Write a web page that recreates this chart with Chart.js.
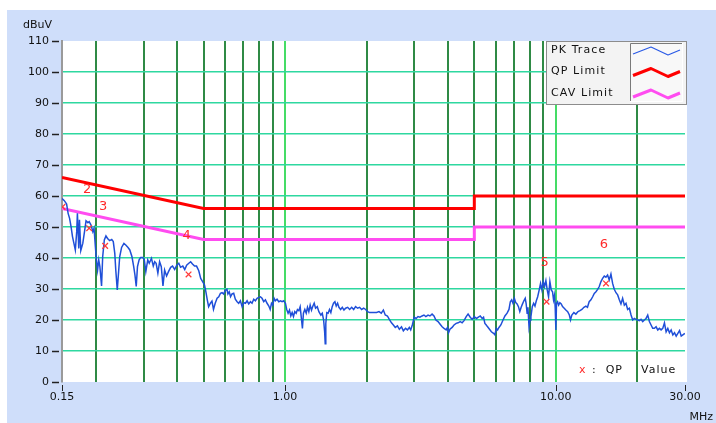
<!DOCTYPE html>
<html>
<head>
<meta charset="utf-8">
<script src="https://cdn.jsdelivr.net/npm/chart.js@4.4.1/dist/chart.umd.min.js"></script>
<style>
  html, body { margin: 0; padding: 0; background: #ffffff; }
  #c { display: block; }
</style>
</head>
<body>
<canvas id="c" width="716" height="423"></canvas>
<script>
// Peak detector sweep: [frequency MHz, level dBuV]
const pkTrace = [
  [0.150,59.2],[0.153,58.5],[0.156,57.4],[0.158,54.4],[0.160,52.8],[0.162,50.1],[0.164,46.9],[0.166,44.7],
  [0.168,42.6],[0.170,48.5],[0.171,54.4],[0.173,43.1],[0.174,52.3],[0.176,42.4],[0.179,44.7],[0.182,49.0],
  [0.184,52.0],[0.187,51.4],[0.189,51.7],[0.192,50.6],[0.195,48.5],[0.197,49.6],[0.199,44.2],[0.201,39.4],
  [0.203,36.1],[0.205,39.4],[0.207,37.2],[0.210,31.0],[0.212,40.4],[0.215,45.8],[0.218,47.1],[0.221,46.3],
  [0.225,45.6],[0.229,46.0],[0.232,45.3],[0.235,41.5],[0.237,36.1],[0.240,29.7],[0.243,36.1],[0.245,40.4],
  [0.249,43.4],[0.254,44.7],[0.258,44.2],[0.263,43.4],[0.267,42.6],[0.272,40.4],[0.276,37.2],[0.279,34.5],
  [0.282,30.8],[0.285,37.2],[0.289,39.4],[0.293,40.2],[0.298,40.2],[0.302,39.4],[0.306,35.6],[0.311,39.4],
  [0.315,38.3],[0.321,39.9],[0.326,37.4],[0.330,38.8],[0.334,38.3],[0.339,35.1],[0.344,38.8],[0.349,37.2],
  [0.354,31.0],[0.359,36.1],[0.365,34.2],[0.371,35.6],[0.378,37.0],[0.384,37.4],[0.391,36.3],[0.398,37.7],
  [0.405,38.3],[0.411,37.0],[0.419,37.4],[0.426,36.3],[0.433,37.7],[0.441,38.3],[0.448,38.8],[0.455,38.1],
  [0.463,37.4],[0.471,37.4],[0.480,35.9],[0.488,33.4],[0.496,32.4],[0.504,31.3],[0.510,29.1],[0.516,26.5],
  [0.522,24.3],[0.530,25.4],[0.537,26.1],[0.544,23.4],[0.552,25.4],[0.561,27.0],[0.569,27.5],[0.577,28.6],
  [0.585,28.8],[0.593,28.4],[0.601,29.5],[0.610,29.9],[0.615,28.4],[0.622,29.1],[0.629,27.5],[0.637,28.4],
  [0.646,28.6],[0.655,26.7],[0.665,25.9],[0.674,25.4],[0.684,26.2],[0.694,24.3],[0.704,25.6],[0.714,25.4],
  [0.724,26.2],[0.734,25.2],[0.745,25.9],[0.755,25.4],[0.766,26.7],[0.777,26.2],[0.788,27.0],[0.800,27.3],
  [0.811,27.5],[0.822,27.0],[0.834,25.9],[0.846,26.5],[0.858,25.4],[0.871,24.5],[0.881,23.4],[0.891,25.4],
  [0.901,24.8],[0.911,27.0],[0.921,26.2],[0.934,26.7],[0.948,25.9],[0.962,26.2],[0.975,25.9],[0.989,26.2],
  [1.003,25.4],[1.014,23.4],[1.026,22.2],[1.038,23.2],[1.050,21.3],[1.062,22.4],[1.074,21.1],[1.086,22.7],
  [1.099,22.2],[1.111,23.4],[1.124,23.0],[1.137,24.3],[1.150,20.2],[1.159,17.3],[1.169,22.2],[1.183,23.4],
  [1.197,22.2],[1.210,24.1],[1.224,22.7],[1.238,24.8],[1.252,23.2],[1.267,24.5],[1.281,25.4],[1.296,23.8],
  [1.315,24.3],[1.333,22.7],[1.356,21.6],[1.372,22.2],[1.388,20.0],[1.400,16.2],[1.407,12.3],[1.414,18.9],
  [1.426,22.4],[1.442,22.2],[1.459,23.4],[1.476,22.4],[1.493,24.3],[1.510,25.4],[1.528,25.9],[1.545,24.5],
  [1.563,25.4],[1.581,24.1],[1.604,23.4],[1.627,24.1],[1.650,23.2],[1.674,23.8],[1.703,24.1],[1.732,23.4],
  [1.762,24.1],[1.792,23.4],[1.822,24.3],[1.853,23.8],[1.885,24.1],[1.918,23.4],[1.951,23.8],[1.984,23.4],
  [2.018,22.7],[2.053,22.4],[2.099,22.4],[2.130,22.4],[2.178,22.4],[2.223,22.7],[2.266,22.2],[2.307,23.2],
  [2.344,21.6],[2.388,21.3],[2.427,20.2],[2.472,19.1],[2.512,18.4],[2.553,17.6],[2.600,18.1],[2.643,17.0],
  [2.692,17.8],[2.735,16.5],[2.786,17.3],[2.831,16.8],[2.877,17.6],[2.911,16.8],[2.951,18.4],[2.999,20.9],
  [3.048,20.5],[3.097,21.1],[3.148,20.9],[3.206,21.3],[3.258,21.6],[3.311,21.1],[3.373,21.6],[3.428,21.3],
  [3.491,21.9],[3.548,21.3],[3.606,20.0],[3.673,19.5],[3.733,18.7],[3.802,17.8],[3.864,17.3],[3.936,16.8],
  [3.981,17.6],[4.018,15.9],[4.064,17.0],[4.140,17.6],[4.207,18.4],[4.285,18.9],[4.355,19.1],[4.436,19.5],
  [4.508,19.1],[4.581,19.8],[4.667,21.1],[4.742,21.9],[4.831,20.9],[4.909,20.2],[5.000,21.1],[5.093,20.5],
  [5.176,20.9],[5.260,21.3],[5.346,20.5],[5.408,20.9],[5.470,18.9],[5.534,18.4],[5.598,17.8],[5.689,17.0],
  [5.781,16.2],[5.888,15.7],[5.957,15.2],[6.026,17.3],[6.095,16.8],[6.166,17.6],[6.266,18.4],[6.383,20.0],
  [6.486,21.3],[6.607,22.2],[6.714,23.4],[6.792,25.9],[6.871,26.5],[6.950,25.4],[7.031,27.0],[7.112,25.6],
  [7.194,25.2],[7.278,24.3],[7.362,22.7],[7.447,24.1],[7.534,25.2],[7.621,26.2],[7.709,27.0],[7.766,25.4],
  [7.834,22.2],[7.889,24.1],[7.962,17.8],[8.035,20.0],[8.091,21.1],[8.185,24.3],[8.279,25.4],[8.375,24.5],
  [8.472,26.2],[8.570,27.5],[8.683,29.7],[8.782,31.8],[8.883,29.7],[8.984,32.4],[9.087,30.8],[9.190,32.7],
  [9.295,29.7],[9.400,27.5],[9.507,32.4],[9.616,29.7],[9.725,29.1],[9.808,26.5],[9.892,28.1],[9.949,23.8],
  [10.005,16.8],[10.06,25.4],[10.15,25.9],[10.24,24.8],[10.35,25.6],[10.47,25.2],[10.59,24.3],[10.74,23.8],
  [10.89,23.2],[11.06,22.7],[11.22,21.6],[11.33,20.0],[11.46,21.6],[11.66,22.4],[11.86,21.9],[12.08,22.7],
  [12.28,23.0],[12.48,23.4],[12.70,24.1],[12.91,24.5],[13.09,24.1],[13.28,25.9],[13.48,26.5],[13.68,27.5],
  [13.87,28.6],[14.07,29.1],[14.27,29.9],[14.47,30.8],[14.68,32.4],[14.89,33.4],[15.10,34.2],[15.31,33.8],
  [15.53,34.5],[15.75,32.9],[15.98,34.8],[16.21,31.8],[16.44,29.9],[16.68,28.8],[16.92,28.1],[17.16,26.5],
  [17.40,25.2],[17.65,27.0],[17.91,24.8],[18.16,25.4],[18.42,23.4],[18.69,23.8],[18.96,21.6],[19.23,20.0],
  [19.50,20.5],[19.78,20.2],[20.06,20.0],[20.35,19.8],[20.64,20.2],[20.94,19.5],[21.24,20.0],[21.54,20.5],
  [21.85,21.6],[22.16,19.5],[22.48,18.4],[22.80,17.3],[23.13,17.3],[23.46,17.8],[23.80,16.8],[24.14,17.3],
  [24.48,16.8],[24.83,17.3],[25.19,19.1],[25.55,16.2],[25.92,17.3],[26.29,15.9],[26.67,16.8],[27.05,15.2],
  [27.44,15.9],[27.83,14.8],[28.23,15.7],[28.64,16.6],[29.05,14.8],[29.46,15.2],[29.96,15.7]
];

// Class B limit lines (corner frequencies and levels)
const limitFreq = [0.15, 0.5, 5, 5, 30];
const qpLimit   = [66, 56, 56, 60, 60];
const cavLimit  = [56, 46, 46, 50, 50];

// Quasi-peak readings at the marked frequencies
const qpFreq   = [0.1506, 0.189, 0.2165, 0.440, 9.24, 15.32];
const qpLevel  = [56.5, 49.6, 43.9, 34.7, 25.9, 31.8];
const qpNames  = ['', '2', '3', '4', '5', '6'];

// Axis ticks
const freqGrid    = [0.15, 0.2, 0.3, 0.4, 0.5, 0.6, 0.7, 0.8, 0.9, 1, 2, 3, 4, 5, 6, 7, 8, 9, 10, 20, 30];
const freqLabeled = [0.15, 1, 10, 30];
const levelTicks  = [0, 10, 20, 30, 40, 50, 60, 70, 80, 90, 100, 110];

const FONT = '"DejaVu Sans", Verdana, sans-serif';
const near = (a, b) => Math.abs(a - b) < 1e-6;
const toPoints = (xs, ys) => xs.map((x, i) => ({ x: x, y: ys[i] }));

const backdrop = {
  id: 'backdrop',
  beforeDraw(chart) {
    const { ctx, chartArea: a } = chart;
    ctx.save();
    ctx.fillStyle = '#ffffff';
    ctx.fillRect(0, 0, chart.width, chart.height);
    ctx.fillStyle = '#cfdefa';
    ctx.fillRect(7, 10, chart.width - 7, chart.height - 10);
    ctx.fillStyle = '#ffffff';
    ctx.fillRect(a.left, a.top, a.right - a.left + 2, a.bottom - a.top);
    ctx.restore();
  }
};

const decorations = {
  id: 'decorations',
  afterDraw(chart) {
    const { ctx, chartArea: a, scales: { x, y } } = chart;
    ctx.save();

    // y tick dashes
    ctx.strokeStyle = '#222';
    ctx.lineWidth = 1.5;
    levelTicks.forEach(v => {
      const py = Math.round(y.getPixelForValue(v)) + 0.5;
      ctx.beginPath();
      ctx.moveTo(a.left - 10, py);
      ctx.lineTo(a.left - 3, py);
      ctx.stroke();
    });
    // x tick marks
    ctx.lineWidth = 1;
    freqLabeled.forEach(f => {
      const px = Math.round(x.getPixelForValue(f)) + 0.5;
      ctx.beginPath();
      ctx.moveTo(px, a.bottom + 3);
      ctx.lineTo(px, a.bottom + 9);
      ctx.stroke();
    });

    // unit captions
    ctx.fillStyle = '#111';
    ctx.font = '11px ' + FONT;
    ctx.textBaseline = 'middle';
    ctx.textAlign = 'left';
    ctx.fillText('dBuV', 23, 25);
    ctx.textAlign = 'right';
    ctx.fillText('MHz', chart.width - 3, 417);

    // marker numbers
    ctx.fillStyle = '#ff2a2a';
    ctx.font = '13px ' + FONT;
    ctx.textAlign = 'center';
    qpNames.forEach((n, i) => {
      if (!n) return;
      const px = x.getPixelForValue(qpFreq[i]) - 2;
      const py = y.getPixelForValue(qpLevel[i]) - 39;
      ctx.fillText(n, px, py);
    });

    // "x : QP   Value" note
    ctx.font = '11px ' + FONT;
    ctx.textAlign = 'left';
    ctx.fillStyle = '#ff2a2a';
    ctx.fillText('x', a.right - 106, a.bottom - 12);
    ctx.fillStyle = '#111';
    ctx.letterSpacing = '1px';
    ctx.fillText(':  QP', a.right - 93, a.bottom - 12);
    ctx.fillText('Value', a.right - 44, a.bottom - 12);

    // legend box
    const lx = a.right - 139, ly = a.top, lw = 141, lh = 64;
    ctx.fillStyle = '#f3f3f3';
    ctx.fillRect(lx, ly, lw, lh);
    ctx.strokeStyle = '#8c8c8c';
    ctx.lineWidth = 1;
    ctx.strokeRect(lx + 0.5, ly + 0.5, lw - 1, lh - 1);
    // sample panel with inset edge
    const sx = lx + 84, sy = ly + 2, sw = 53, sh = 59;
    ctx.fillStyle = '#f8f8f8';
    ctx.fillRect(sx, sy, sw, sh);
    ctx.strokeStyle = '#7a7a7a';
    ctx.beginPath();
    ctx.moveTo(sx + 0.5, sy + sh); ctx.lineTo(sx + 0.5, sy + 0.5); ctx.lineTo(sx + sw, sy + 0.5);
    ctx.stroke();
    ctx.strokeStyle = '#ffffff';
    ctx.beginPath();
    ctx.moveTo(sx + sw - 0.5, sy); ctx.lineTo(sx + sw - 0.5, sy + sh - 0.5); ctx.lineTo(sx, sy + sh - 0.5);
    ctx.stroke();

    const entries = [
      { text: 'PK Trace',  color: '#2a5ae6', width: 1.2, dy: 9 },
      { text: 'QP Limit',  color: '#ff0000', width: 3,   dy: 30.5 },
      { text: 'CAV Limit', color: '#ff4cf0', width: 3,   dy: 52 }
    ];
    entries.forEach(e => {
      ctx.fillStyle = '#111';
      ctx.font = '11px ' + FONT;
      ctx.letterSpacing = '1.1px';
      ctx.textAlign = 'left';
      ctx.fillText(e.text, lx + 5, ly + e.dy);
      ctx.letterSpacing = '0px';
      ctx.strokeStyle = e.color;
      ctx.lineWidth = e.width;
      ctx.lineJoin = 'round';
      const cy = ly + e.dy + 1;
      ctx.beginPath();
      ctx.moveTo(sx + 3, cy + 3);
      ctx.lineTo(sx + 21, cy - 4);
      ctx.lineTo(sx + 38, cy + 4);
      ctx.lineTo(sx + 50, cy - 1);
      ctx.stroke();
    });

    ctx.restore();
  }
};

new Chart(document.getElementById('c'), {
  type: 'scatter',
  data: {
    datasets: [
      {
        label: 'QP',
        data: toPoints(qpFreq, qpLevel),
        showLine: false,
        pointStyle: 'crossRot',
        pointRadius: 4,
        borderColor: '#ff3a3a',
        borderWidth: 1.3
      },
      {
        label: 'PK Trace',
        data: pkTrace.map(p => ({ x: p[0], y: p[1] })),
        showLine: true,
        borderColor: '#1f4fd8',
        borderWidth: 1.5,
        pointRadius: 0,
        tension: 0
      },
      {
        label: 'QP Limit',
        data: toPoints(limitFreq, qpLimit),
        showLine: true,
        borderColor: '#ff0000',
        borderWidth: 3,
        pointRadius: 0
      },
      {
        label: 'CAV Limit',
        data: toPoints(limitFreq, cavLimit),
        showLine: true,
        borderColor: '#ff4cf0',
        borderWidth: 3,
        pointRadius: 0
      }
    ]
  },
  options: {
    responsive: false,
    animation: false,
    devicePixelRatio: 1,
    layout: { padding: { top: 41, right: 31, left: 0, bottom: 0 } },
    plugins: { legend: { display: false }, tooltip: { enabled: false } },
    scales: {
      x: {
        type: 'logarithmic',
        min: 0.15,
        max: 30,
        afterBuildTicks: s => { s.ticks = freqGrid.map(v => ({ value: v })); },
        afterFit: s => { s.height = 41; },
        border: { display: false },
        grid: {
          drawTicks: false,
          lineWidth: 2,
          color: c => {
            const v = c.tick ? c.tick.value : NaN;
            if (near(v, 0.15) || near(v, 30)) return 'rgba(0,0,0,0)';
            if (near(v, 1) || near(v, 10)) return '#45dc66';
            return '#2f8a45';
          }
        },
        ticks: {
          autoSkip: false,
          maxRotation: 0,
          padding: 9,
          color: '#111',
          font: { family: FONT, size: 11 },
          callback: v => freqLabeled.some(f => near(f, v)) ? Number(v).toFixed(2) : ''
        }
      },
      y: {
        min: 0,
        max: 110,
        afterBuildTicks: s => { s.ticks = levelTicks.map(v => ({ value: v })); },
        afterFit: s => { s.width = 62; },
        border: { display: true, color: '#9a9a9a', width: 2 },
        grid: {
          drawTicks: false,
          lineWidth: 1.6,
          color: c => {
            const v = c.tick ? c.tick.value : NaN;
            return (v === 0 || v === 110) ? 'rgba(0,0,0,0)' : '#2ed8a0';
          }
        },
        ticks: {
          padding: 13,
          color: '#111',
          font: { family: FONT, size: 11 },
          callback: v => String(v)
        }
      }
    }
  },
  plugins: [backdrop, decorations]
});
</script>
</body>
</html>
